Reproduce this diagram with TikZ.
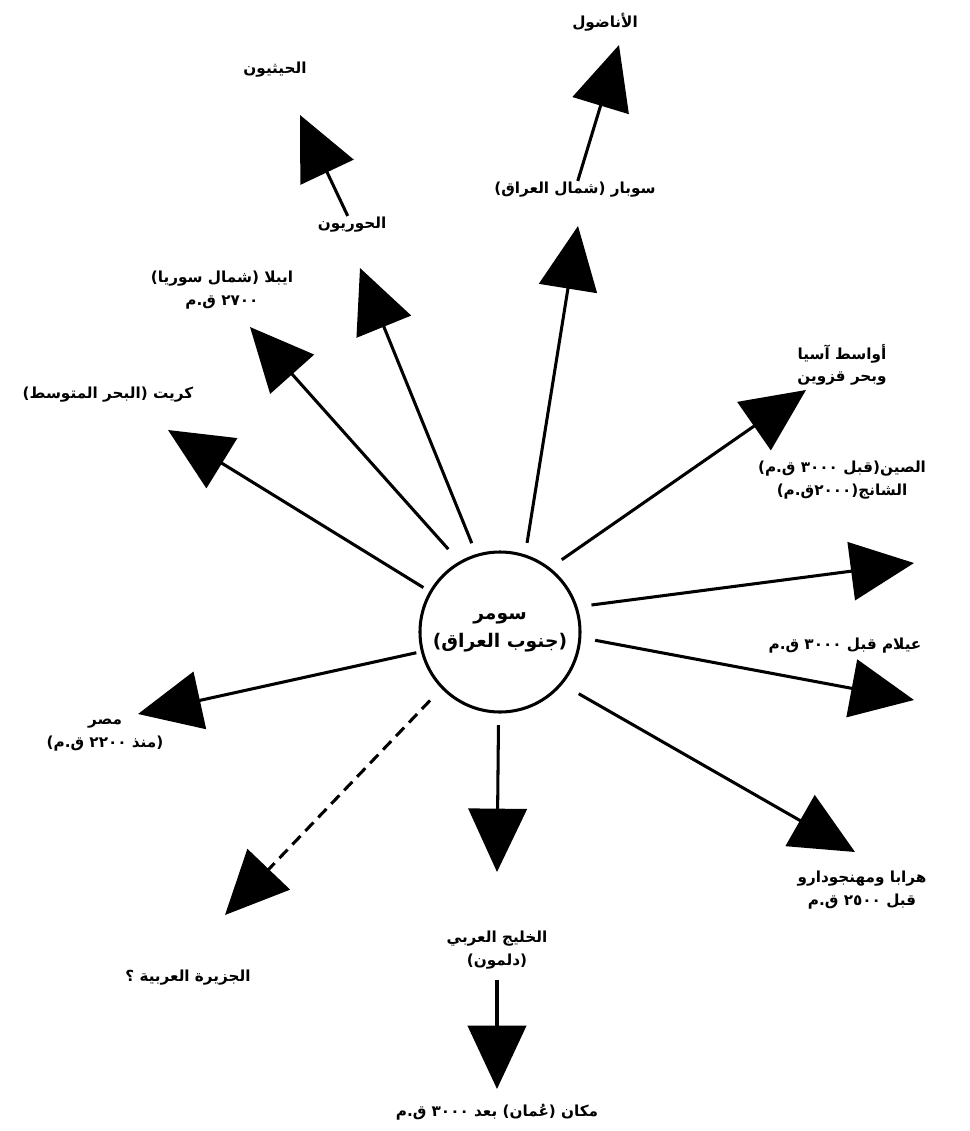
\documentclass[tikz,border=0pt]{standalone}
\usepackage{fontspec}
\usetikzlibrary{arrows.meta}
\TeXXeTstate=1
\newfontfamily\arabicfont[Script=Arabic]{DejaVu Sans}
\newcommand{\rl}[1]{\beginR #1\endR}

\begin{document}
\begin{tikzpicture}[x=0.03cm,y=-0.03cm,
		lbl/.style={font=\arabicfont\bfseries\fontsize{13}{19}\selectfont, align=center, inner sep=1pt},
		arr/.style={line width=2.6pt, -{Triangle[length=19mm,width=17.5mm]}},
		dasharr/.style={arr, dash pattern=on 10pt off 6pt}]
		\useasboundingbox (0,0) rectangle (969,1131);
		\node[circle, draw, line width=2.6pt, minimum size=4.8cm, font=\arabicfont\bfseries\fontsize{16}{24}\selectfont, align=center] (sumer) at (500,632) {\rl{سومر}\\\rl{(جنوب العراق)}};

		\node[lbl] (anat) at (605,22) {\rl{الأناضول}};
		\node[lbl] (hitt) at (275,70) {\rl{الحيثيون}};
		\node[lbl] (subar) at (575,190) {\rl{سوبار (شمال العراق)}};
		\node[lbl] (hurri) at (352,225) {\rl{الحوريون}};
		\node[lbl] (ebla) at (222,290) {\rl{ايبلا (شمال سوريا)}\\\rl{٢٧٠٠ ق.م}};
		\node[lbl] (crete) at (108,395) {\rl{كريت (البحر المتوسط)}};
		\node[lbl] (asia) at (842,365) {\rl{أواسط آسيا}\\\rl{وبحر قزوين}};
		\node[lbl] (china) at (842,480) {\rl{الصين(قبل ٣٠٠٠ ق.م)}\\\rl{الشانج(٢٠٠٠ق.م)}};
		\node[lbl] (elam) at (845,646) {\rl{عيلام قبل ٣٠٠٠ ق.م}};
		\node[lbl] (egypt) at (105,735) {\rl{مصر}\\\rl{(منذ ٢٢٠٠ ق.م)}};
		\node[lbl] (harap) at (862,890) {\rl{هرابا ومهنجودارو}\\\rl{قبل ٢٥٠٠ ق.م}};
		\node[lbl] (arab) at (188,978) {\rl{الجزيرة العربية ؟}};
		\node[lbl] (gulf) at (497,950) {\rl{الخليج العربي}\\\rl{(دلمون)}};
		\node[lbl] (oman) at (497,1112) {\rl{مكان (عُمان) بعد ٣٠٠٠ ق.م}};

		\coordinate (tanat) at (619,45);
		\coordinate (tsubar) at (578,226);
		\coordinate (thitt) at (300,115);
		\coordinate (thurri) at (360,268);
		\coordinate (tebla) at (250,327);
		\coordinate (tcrete) at (168,430);
		\coordinate (tasia) at (806,390);
		\coordinate (tchina) at (914,563);
		\coordinate (telam) at (914,700);
		\coordinate (tharap) at (855,852);
		\coordinate (tgulf) at (497,872);
		\coordinate (toman) at (497,1089);
		\coordinate (tegypt) at (138,714);
		\coordinate (tarab) at (225,915);

		\draw[arr, shorten <=10pt] (sumer.72) -- (tsubar);
		\draw[arr, shorten <=10pt] (sumer.107) -- (thurri);
		\draw[arr, shorten <=14pt] (sumer.120) -- (tebla);
		\draw[arr, shorten <=6pt] (sumer.150) -- (tcrete);
		\draw[arr, shorten <=12pt] (sumer.52) -- (tasia);
		\draw[arr, shorten <=12pt] (sumer.18) -- (tchina);
		\draw[arr, shorten <=12pt] (sumer.-4) -- (telam);
		\draw[arr, shorten <=16pt] (sumer.-40) -- (tharap);
		\draw[arr, shorten <=10pt] (sumer.-91) -- (tgulf);
		\draw[arr, shorten <=4pt] (sumer.194) -- (tegypt);
		\draw[dasharr, shorten <=14pt] (sumer.224) -- (tarab);
		\draw[arr] (subar) -- (tanat);
		\draw[arr] (hurri) -- (thitt);
		\draw[arr, shorten <=8pt] (gulf) -- (toman);
\end{tikzpicture}
\end{document}
